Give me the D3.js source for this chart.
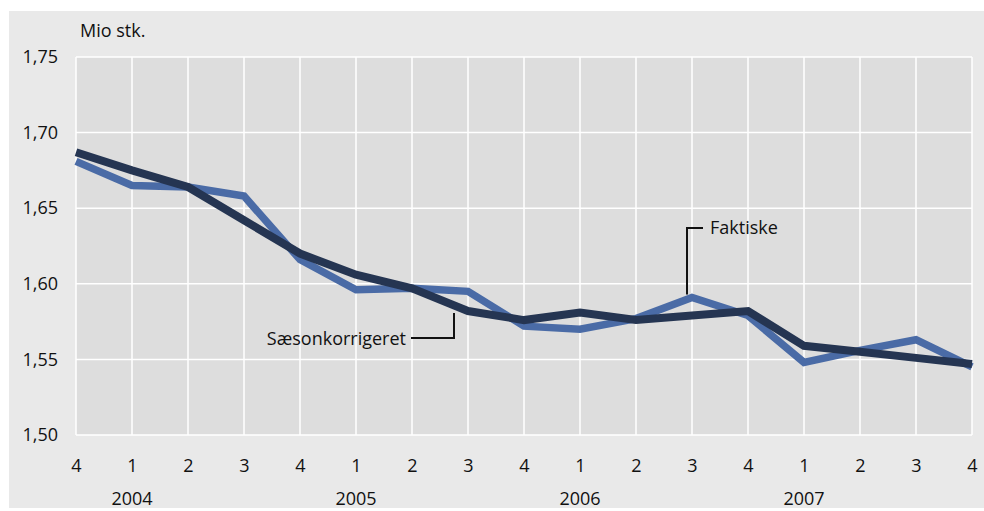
<!DOCTYPE html>
<html>
<head>
<meta charset="utf-8">
<script src="https://cdn.jsdelivr.net/npm/d3@7"></script>
<style>
	body { margin: 0; background: #ffffff; }
	text { font-family: "Open Sans", sans-serif; fill: #111111; }
</style>
</head>
<body>
<svg id="chart" width="984" height="511"></svg>
<script>
// kvartaler 2003K4 - 2007K4
var quarters = ["4", "1", "2", "3", "4", "1", "2", "3", "4", "1", "2", "3", "4", "1", "2", "3", "4"];
var years = [{ idx: 1, label: "2004" }, { idx: 5, label: "2005" }, { idx: 9, label: "2006" }, { idx: 13, label: "2007" }];
var faktiske = [1.681, 1.665, 1.664, 1.658, 1.616, 1.596, 1.597, 1.595, 1.572, 1.570, 1.577, 1.591, 1.579, 1.548, 1.556, 1.563, 1.545];
var saesonkorrigeret = [1.687, 1.675, 1.664, 1.642, 1.620, 1.606, 1.597, 1.582, 1.576, 1.581, 1.576, 1.579, 1.582, 1.559, 1.555, 1.551, 1.547];
var yTicks = [1.50, 1.55, 1.60, 1.65, 1.70, 1.75];

var svg = d3.select("#chart");

svg.append("rect")
	.attr("x", 9).attr("y", 11)
	.attr("width", 975).attr("height", 497)
	.attr("fill", "#e9e9e9");

var plotLeft = 76, plotRight = 972, plotTop = 57, plotBottom = 435;

var x = d3.scaleLinear().domain([0, quarters.length - 1]).range([plotLeft, plotRight]);
var y = d3.scaleLinear().domain([1.50, 1.75]).range([plotBottom, plotTop]);

svg.append("rect")
	.attr("x", plotLeft).attr("y", plotTop)
	.attr("width", plotRight - plotLeft).attr("height", plotBottom - plotTop)
	.attr("fill", "#dddddd");

// gitterlinjer
svg.append("g").selectAll("line")
	.data(yTicks)
	.enter().append("line")
		.attr("x1", plotLeft).attr("x2", plotRight)
		.attr("y1", d => y(d)).attr("y2", d => y(d))
		.attr("stroke", "#ffffff").attr("stroke-width", 1.5);

svg.append("g").selectAll("line")
	.data(quarters)
	.enter().append("line")
		.attr("x1", (d, i) => x(i)).attr("x2", (d, i) => x(i))
		.attr("y1", plotTop).attr("y2", plotBottom)
		.attr("stroke", "#ffffff").attr("stroke-width", 1.5);

// akser
var yAxis = svg.append("g")
	.attr("transform", "translate(" + (plotLeft - 18) + ",0)")
	.call(d3.axisLeft(y).tickValues(yTicks).tickSize(0).tickFormat(d => d3.format(".2f")(d).replace(".", ",")));
yAxis.select(".domain").remove();
yAxis.selectAll("text").style("font-size", "18px").attr("x", 0);

var xAxis = svg.append("g")
	.attr("transform", "translate(0," + (plotBottom + 24) + ")")
	.call(d3.axisBottom(x).tickValues(d3.range(quarters.length)).tickSize(0).tickFormat(i => quarters[i]));
xAxis.select(".domain").remove();
xAxis.selectAll("text").style("font-size", "18px").attr("y", 0).attr("dy", "0.71em");

svg.append("g").selectAll("text")
	.data(years)
	.enter().append("text")
		.attr("x", d => x(d.idx))
		.attr("y", plotBottom + 70)
		.attr("text-anchor", "middle")
		.style("font-size", "18px")
		.text(d => d.label);

svg.append("text")
	.attr("x", 80).attr("y", 37)
	.style("font-size", "18px")
	.text("Mio stk.");

// linjer
var line = d3.line().x((d, i) => x(i)).y(d => y(d));

svg.append("path")
	.datum(faktiske)
	.attr("d", line)
	.attr("fill", "none")
	.attr("stroke", "#4a6ba6")
	.attr("stroke-width", 7.5)
	.attr("stroke-linejoin", "miter");

svg.append("path")
	.datum(saesonkorrigeret)
	.attr("d", line)
	.attr("fill", "none")
	.attr("stroke", "#253552")
	.attr("stroke-width", 8)
	.attr("stroke-linejoin", "miter");

// labels med streger
var xf = x(11) - 5;
svg.append("path")
	.attr("d", "M" + xf + "," + (y(faktiske[11]) - 3) + "V228H" + (xf + 16))
	.attr("fill", "none").attr("stroke", "#111111").attr("stroke-width", 2);
svg.append("text")
	.attr("x", xf + 23).attr("y", 234)
	.style("font-size", "18px")
	.text("Faktiske");

var xs = x(6.75);
svg.append("path")
	.attr("d", "M" + (xs - 43) + ",338H" + xs + "V313")
	.attr("fill", "none").attr("stroke", "#111111").attr("stroke-width", 2);
svg.append("text")
	.attr("x", xs - 48).attr("y", 345)
	.attr("text-anchor", "end")
	.style("font-size", "18px")
	.text("Sæsonkorrigeret");
</script>
</body>
</html>
